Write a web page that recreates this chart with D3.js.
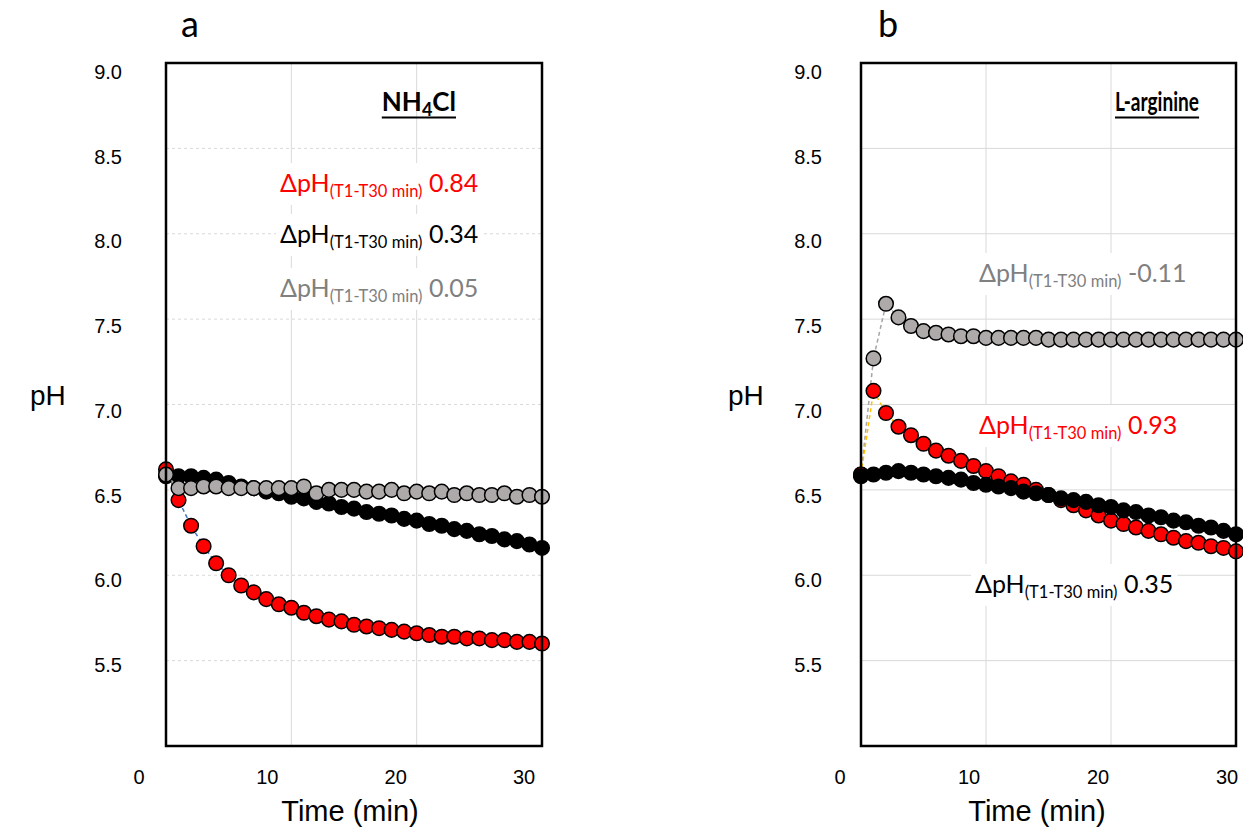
<!DOCTYPE html>
<html>
<head>
<meta charset="utf-8">
<script src="https://cdn.jsdelivr.net/npm/d3@7"></script>
<style>
  body { margin: 0; background: #fff; }
  svg { display: block; }
  .tick-label, .axis-title { font-family: "Liberation Sans", Arial, sans-serif; fill: #000; }
  .note { font-family: Lato, "Open Sans", sans-serif; }
</style>
</head>
<body>
<svg id="chart" width="1243" height="831"></svg>
<script>
// time points (min)
const minutes = [0, 1, 2, 3, 4, 5, 6, 7, 8, 9, 10, 11, 12, 13, 14, 15, 16, 17, 18, 19, 20, 21, 22, 23, 24, 25, 26, 27, 28, 29, 30];
const yTicks = [5.5, 6.0, 6.5, 7.0, 7.5, 8.0, 8.5, 9.0];
const xTickLabels = [0, 10, 20, 30];
const xGrid = [10, 20];

// panel a : NH4Cl
const nh4clRed = [6.62, 6.44, 6.29, 6.17, 6.07, 6.00, 5.94, 5.90, 5.86, 5.83, 5.81, 5.78, 5.76, 5.74, 5.73, 5.71,
  5.70, 5.69, 5.68, 5.67, 5.66, 5.65, 5.64, 5.64, 5.63, 5.63, 5.62, 5.62, 5.61, 5.61, 5.60];
const nh4clBlack = [6.58, 6.58, 6.58, 6.57, 6.56, 6.54, 6.52, 6.51, 6.49, 6.48, 6.46, 6.45, 6.43, 6.42, 6.40, 6.39,
  6.37, 6.36, 6.35, 6.33, 6.32, 6.30, 6.29, 6.27, 6.26, 6.24, 6.23, 6.21, 6.20, 6.18, 6.16];
const nh4clGrey = [6.59, 6.51, 6.51, 6.52, 6.52, 6.51, 6.51, 6.51, 6.51, 6.51, 6.51, 6.52, 6.48, 6.50, 6.50, 6.50,
  6.49, 6.49, 6.50, 6.48, 6.49, 6.48, 6.49, 6.47, 6.48, 6.47, 6.47, 6.48, 6.46, 6.47, 6.46];

// panel b : L-arginine
const argRed = [6.59, 7.08, 6.95, 6.87, 6.82, 6.77, 6.73, 6.70, 6.67, 6.64, 6.61, 6.58, 6.55, 6.53, 6.50, 6.47,
  6.44, 6.41, 6.38, 6.35, 6.32, 6.30, 6.28, 6.26, 6.24, 6.22, 6.20, 6.19, 6.17, 6.16, 6.14];
const argBlack = [6.58, 6.59, 6.60, 6.61, 6.60, 6.59, 6.58, 6.57, 6.56, 6.54, 6.53, 6.52, 6.51, 6.49, 6.48, 6.47,
  6.45, 6.44, 6.43, 6.41, 6.40, 6.38, 6.37, 6.35, 6.34, 6.32, 6.31, 6.29, 6.28, 6.26, 6.24];
const argGrey = [6.59, 7.27, 7.59, 7.51, 7.46, 7.43, 7.42, 7.41, 7.40, 7.40, 7.39, 7.39, 7.39, 7.39, 7.39, 7.38,
  7.38, 7.38, 7.38, 7.38, 7.38, 7.38, 7.38, 7.38, 7.38, 7.38, 7.38, 7.38, 7.38, 7.38, 7.38];

const nh4clDeltas = ["0.84", "0.34", "0.05"];
const argDeltas = ["-0.11", "0.93", "0.35"];

class phPanel {
  constructor(_config, _data) {
    this.config = {
      parentElement: _config.parentElement,
      left: _config.left,
      right: _config.right,
      top: 63,
      bottom: 746,
      yLabelRight: _config.yLabelRight,
      xLabelRange: _config.xLabelRange,
      hGridDash: _config.hGridDash,
      letter: _config.letter,
      letterX: _config.letterX,
      pHX: _config.pHX,
      timeX: _config.timeX,
      title: _config.title,
      titleRight: _config.titleRight,
      titleWidth: _config.titleWidth,
      notes: _config.notes
    };
    this.data = _data;
    this.initVis();
  }

  initVis() {
    let vis = this;
    const c = vis.config;

    vis.xScale = d3.scaleLinear().domain([0, 30]).range([c.left, c.right]);
    vis.yScale = d3.scaleLinear().domain([5, 9]).range([c.bottom, c.top]);
    // the printed tick labels sit a little off the grid in the original
    vis.xLabelScale = d3.scaleLinear().domain([0, 30]).range(c.xLabelRange);
    vis.yLabelScale = d3.scaleLinear().domain([5.5, 9]).range([665, 72]);

    vis.svg = d3.select(c.parentElement);
    vis.g = vis.svg.append('g');

    vis.renderVis();
  }

  renderVis() {
    let vis = this;
    const c = vis.config;
    const g = vis.g;

    // grid
    g.selectAll('.vgrid').data(xGrid).join('line')
      .attr('x1', d => vis.xScale(d)).attr('x2', d => vis.xScale(d))
      .attr('y1', c.top).attr('y2', c.bottom)
      .attr('stroke', '#d9d9d9').attr('stroke-width', 1);
    g.selectAll('.hgrid').data(yTicks.filter(d => d < 9)).join('line')
      .attr('x1', c.left).attr('x2', c.right)
      .attr('y1', d => vis.yScale(d)).attr('y2', d => vis.yScale(d))
      .attr('stroke', '#d9d9d9').attr('stroke-width', 1)
      .attr('stroke-dasharray', c.hGridDash);

    // series: dashed line then markers, in Excel draw order
    const line = d3.line().x((d, i) => vis.xScale(minutes[i])).y(d => vis.yScale(d));
    vis.data.forEach(s => {
      g.append('path')
        .attr('d', line(s.values))
        .attr('fill', 'none')
        .attr('stroke', s.lineColor)
        .attr('stroke-width', 1.5)
        .attr('stroke-dasharray', '4,3');
      g.append('g').selectAll('circle').data(s.values).join('circle')
        .attr('cx', (d, i) => vis.xScale(minutes[i]))
        .attr('cy', d => vis.yScale(d))
        .attr('r', 7.3)
        .attr('fill', s.fill)
        .attr('stroke', '#000')
        .attr('stroke-width', 1.5);
    });

    // frame
    g.append('rect')
      .attr('x', c.left).attr('y', c.top)
      .attr('width', c.right - c.left).attr('height', c.bottom - c.top)
      .attr('fill', 'none').attr('stroke', '#000').attr('stroke-width', 2.5);

    // tick labels
    g.selectAll('.ylab').data(yTicks).join('text')
      .attr('class', 'tick-label')
      .attr('x', c.yLabelRight)
      .attr('y', d => vis.yLabelScale(d) + 7)
      .attr('text-anchor', 'end')
      .attr('font-size', 20)
      .text(d => d3.format('.1f')(d));
    g.selectAll('.xlab').data(xTickLabels).join('text')
      .attr('class', 'tick-label')
      .attr('x', d => vis.xLabelScale(d))
      .attr('y', 784)
      .attr('text-anchor', 'middle')
      .attr('font-size', 20)
      .text(d => d);

    // axis titles
    g.append('text').attr('class', 'axis-title')
      .attr('x', c.pHX).attr('y', 405)
      .attr('font-size', 28).text('pH');
    g.append('text').attr('class', 'axis-title')
      .attr('x', c.timeX).attr('y', 821)
      .attr('text-anchor', 'middle')
      .attr('font-size', 29).text('Time (min)');

    // panel letter
    g.append('text').attr('class', 'note')
      .attr('x', c.letterX).attr('y', 37)
      .attr('text-anchor', 'middle')
      .attr('font-size', 36).text(c.letter);

    // delta pH notes on white boxes
    c.notes.forEach(n => {
      const ng = g.append('g');
      const bg = ng.append('rect').attr('fill', '#fff');
      const t = ng.append('text').attr('class', 'note')
        .attr('x', n.x).attr('y', n.y)
        .attr('fill', n.color).attr('font-size', 25);
      t.append('tspan').text('ΔpH');
      t.append('tspan').attr('font-size', 16.5).attr('dy', 5).text('(T1-T30 min)');
      t.append('tspan').attr('dy', -5).text(n.gap + n.value);
      const bb = t.node().getBBox();
      bg.attr('x', bb.x - 4).attr('y', bb.y - 4)
        .attr('width', bb.width + 8).attr('height', bb.height + 8);
    });

    // title
    const tt = g.append('text').attr('class', 'note')
      .attr('x', c.titleRight).attr('y', 111)
      .attr('text-anchor', 'end')
      .attr('font-size', 26).attr('font-weight', 'bold');
    c.title.forEach(p => {
      const sp = tt.append('tspan').text(p.text);
      if (p.sub) sp.attr('font-size', 18).attr('dy', 5);
      if (p.back) sp.attr('dy', -5);
    });
    if (c.titleWidth) tt.attr('textLength', c.titleWidth).attr('lengthAdjust', 'spacingAndGlyphs');
    const tb = tt.node().getBBox();
    g.append('line')
      .attr('x1', tb.x).attr('x2', tb.x + tb.width)
      .attr('y1', 117.5).attr('y2', 117.5)
      .attr('stroke', '#000').attr('stroke-width', 2);
  }
}

new phPanel({
  parentElement: '#chart',
  left: 166, right: 542,
  yLabelRight: 122,
  xLabelRange: [139, 524],
  hGridDash: '3,3',
  letter: 'a', letterX: 190,
  pHX: 30, timeX: 350,
  title: [{text: 'NH'}, {text: '4', sub: true}, {text: 'Cl', back: true}],
  titleRight: 456,
  titleWidth: null,
  notes: [
    {value: nh4clDeltas[0], color: '#ff0000', x: 280, y: 192, gap: ' '},
    {value: nh4clDeltas[1], color: '#000000', x: 280, y: 243, gap: ' '},
    {value: nh4clDeltas[2], color: '#808080', x: 280, y: 297, gap: ' '}
  ]
}, [
  {values: nh4clRed, fill: '#ff0000', lineColor: '#4472c4'},
  {values: nh4clBlack, fill: '#000000', lineColor: '#ed7d31'},
  {values: nh4clGrey, fill: '#aeaaaa', lineColor: '#a5a5a5'}
]);

new phPanel({
  parentElement: '#chart',
  left: 861, right: 1236,
  yLabelRight: 822,
  xLabelRange: [840, 1227],
  hGridDash: null,
  letter: 'b', letterX: 888,
  pHX: 728, timeX: 1037,
  title: [{text: 'L-arginine'}],
  titleRight: 1199,
  titleWidth: 84,
  notes: [
    {value: argDeltas[0], color: '#808080', x: 979, y: 282, gap: ' '},
    {value: argDeltas[1], color: '#ff0000', x: 979, y: 434, gap: '  '},
    {value: argDeltas[2], color: '#000000', x: 975, y: 593, gap: '  '}
  ]
}, [
  {values: argGrey, fill: '#aeaaaa', lineColor: '#a5a5a5'},
  {values: argRed, fill: '#ff0000', lineColor: '#ffc000'},
  {values: argBlack, fill: '#000000', lineColor: '#4472c4'}
]);
</script>
</body>
</html>
